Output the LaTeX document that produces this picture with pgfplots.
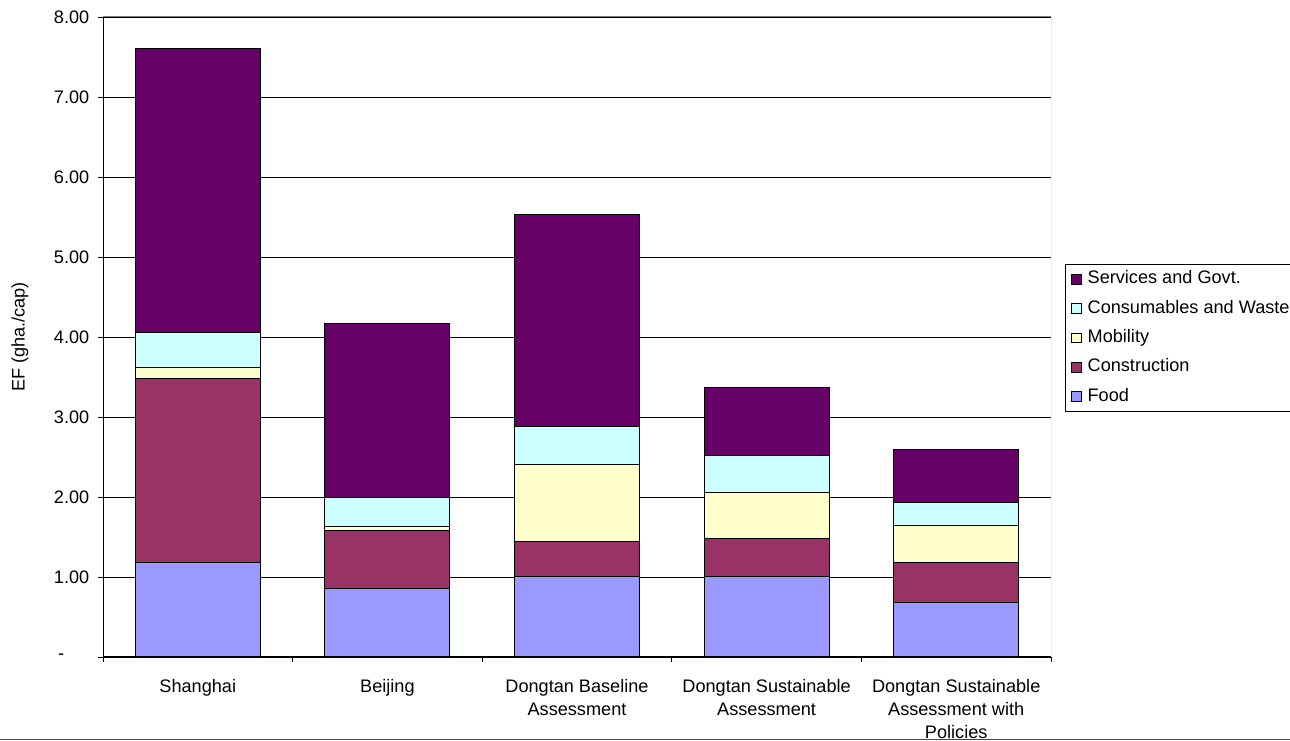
\documentclass[border=0pt]{standalone}
\usepackage{fontspec}
\setmainfont{Liberation Sans}
\usepackage{pgfplots}
\pgfplotsset{compat=1.18}
\definecolor{cFood}{HTML}{9999FF}
\definecolor{cCons}{HTML}{993366}
\definecolor{cMob}{HTML}{FFFFCC}
\definecolor{cWaste}{HTML}{CCFFFF}
\definecolor{cServ}{HTML}{660066}
\definecolor{cFrame}{HTML}{808080}
\definecolor{cBottom}{HTML}{404848}
\newcommand{\lab}{\fontsize{13.6pt}{17.25pt}\selectfont}
\begin{document}
\begin{tikzpicture}
\path[use as bounding box, clip] (0,0) rectangle (967.5pt,555.75pt);
\begin{axis}[
  at={(77.25pt,63pt)}, anchor=south west,
  scale only axis, width=711pt, height=480pt,
  ybar stacked, bar width=0.66,
  xmin=-0.5, xmax=4.5, ymin=0, ymax=8,
  axis lines*=left,
  axis line style={black, line width=0.75pt},
  ytick={0,1,...,8},
  yticklabels={{-\hphantom{.00}},1.00,2.00,3.00,4.00,5.00,6.00,7.00,8.00},
  xtick={0,1,2,3,4},
  xticklabels={Shanghai,Beijing,{Dongtan Baseline\\Assessment},{Dongtan Sustainable\\Assessment},{Dongtan Sustainable\\Assessment with\\Policies}},
  minor xtick={-0.5,0.5,1.5,2.5,3.5,4.5},
  tick align=outside,
  major tick length=3.75pt,
  minor tick length=3.75pt,
  x tick style={draw=none},
  minor x tick style={draw=black, line width=0.6pt},
  y tick style={black, line width=0.6pt},
  xticklabel style={align=center, font=\lab, yshift=-9.5pt},
  yticklabel style={font=\lab, xshift=-3pt},
  ymajorgrids, grid style={black, line width=0.6pt},
  every axis y label/.style={at={(axis description cs:-0.0876,0.5)}, rotate=90, anchor=center, font=\lab},
  ylabel={EF (gha./cap)},
  reverse legend,
  legend cell align=left,
  legend style={at={(1.0148,0.614)}, anchor=north west, draw=black, line width=0.75pt,
    font=\lab, row sep=9pt, column sep=4.5pt, inner xsep=4pt, inner ysep=4.5pt,
    nodes={inner sep=0pt, text height=10pt, text depth=3pt}},
  legend image code/.code={\draw[#1, draw=black, line width=0.6pt] (0pt,-3.6pt) rectangle (7.5pt,3.6pt);},
  every axis plot/.append style={draw=black, line width=0.75pt},
]
\addplot[fill=cFood] coordinates {(0,1.18) (1,0.85) (2,1.00) (3,1.00) (4,0.68)};
\addplot[fill=cCons] coordinates {(0,2.30) (1,0.73) (2,0.44) (3,0.48) (4,0.50)};
\addplot[fill=cMob] coordinates {(0,0.14) (1,0.05) (2,0.96) (3,0.58) (4,0.46)};
\addplot[fill=cWaste] coordinates {(0,0.44) (1,0.36) (2,0.48) (3,0.46) (4,0.29)};
\addplot[fill=cServ] coordinates {(0,3.55) (1,2.18) (2,2.65) (3,0.85) (4,0.66)};
\legend{Food,Construction,Mobility,Consumables and Waste,Services and Govt.}
\draw[cFrame, line width=0.75pt] (rel axis cs:0,1) -- (rel axis cs:1,1) -- (rel axis cs:1,0);
\end{axis}
\draw[cBottom, line width=1.2pt] (0,1pt) -- (967.5pt,1pt);
\end{tikzpicture}
\end{document}
